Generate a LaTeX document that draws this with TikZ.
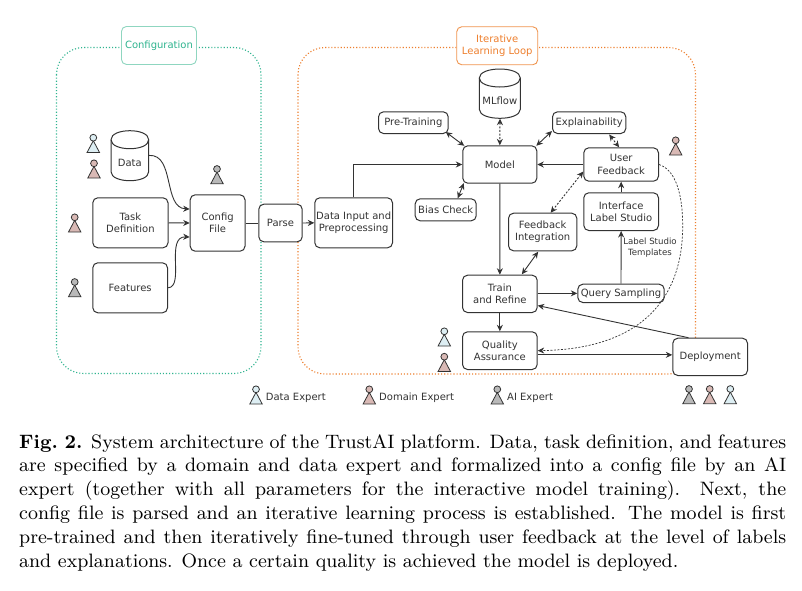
\documentclass[tikz,border=0pt]{standalone}
\usepackage{fontspec}
\setsansfont{DejaVu Sans}
\newfontfamily\capf[Extension=.otf,UprightFont=lmroman9-regular,BoldFont=lmroman9-bold]{lmroman9-regular}
\usetikzlibrary{arrows.meta,calc}
\definecolor{cfg}{HTML}{2FB48F}
\definecolor{cfgl}{HTML}{8FD6C0}
\definecolor{itl}{HTML}{EE7F2D}
\definecolor{itll}{HTML}{F0954F}
\definecolor{ln}{HTML}{333333}
\definecolor{dataC}{HTML}{DDEEF3}
\definecolor{domC}{HTML}{D9B9B5}
\definecolor{aiC}{HTML}{B9B9B9}
\tikzset{
  x=1pt,y=-1pt,
  lbl/.style={font=\sffamily\fontsize{10}{12.4}\selectfont,text=ln,align=center,inner sep=0pt},
  rbox/.style={draw=ln,line width=1pt,rounded corners=5pt,fill=white,lbl},
  frame/.style={line width=1.1pt,dotted,rounded corners=27pt},
  conn/.style={draw=ln,line width=.9pt,-{Stealth[length=6.5pt,width=6pt]}},
  both/.style={draw=ln,line width=.9pt,{Stealth[length=6.5pt,width=6pt]}-{Stealth[length=6.5pt,width=6pt]}},
  dash2/.style={dash pattern=on 2pt off 1.6pt},
}
\newcommand{\bx}[6]{\node[rbox,minimum width=#4-#2,minimum height=#5-#3,anchor=north west] (#1) at (#2,#3) {#6};}
\newcommand{\cyl}[6]{%
  \draw[draw=ln,line width=1pt,fill=white] (#2,#3+9) .. controls (#2,#3-3) and (#4,#3-3) .. (#4,#3+9)
    -- (#4,#5-9) .. controls (#4,#5+3) and (#2,#5+3) .. (#2,#5-9) -- cycle;
  \draw[draw=ln,line width=1pt] (#2,#3+9) .. controls (#2,#3+21) and (#4,#3+21) .. (#4,#3+9);
  \coordinate (#1-c) at ({(#2+#4)/2},{(#3+#5)/2+7});
  \node[lbl] at (#1-c) {#6};
  \node[inner sep=0pt,minimum width=#4-#2,minimum height=#5-#3,anchor=north west] (#1) at (#2,#3) {};}
\newcommand{\actor}[3]{%
  \draw[draw=ln,line width=.8pt,fill=#3] (#1,#2+3) -- (#1+6.2,#2+14.7) -- (#1-6.2,#2+14.7) -- cycle;
  \draw[draw=ln,line width=.8pt,fill=#3] (#1,#2) circle[radius=3.4];}
\begin{document}
\begin{tikzpicture}
\useasboundingbox[fill=white] (0,0) rectangle (802,590);
\draw[frame,cfg] (56.5,47.5) rectangle (261,373.5);
\draw[frame,itl] (298,47.5) rectangle (695.5,374);
\node[draw=cfgl,line width=.9pt,rounded corners=5pt,fill=white,lbl,text=cfg,minimum width=75pt,minimum height=38pt,anchor=north west] (conf) at (121,26) {Configuration};
\node[draw=itll,line width=.9pt,rounded corners=5pt,fill=white,lbl,text=itl,minimum width=81pt,minimum height=38pt,anchor=north west] (iter) at (456.3,26.3) {Iterative\\Learning Loop};
\cyl{data}{111}{130.7}{148.7}{180.7}{Data}
\bx{task}{92.3}{197.3}{167.5}{247.3}{Task\\Definition}
\bx{feat}{92.3}{262.3}{167}{312.3}{Features}
\bx{cfile}{189.7}{194.3}{244.5}{250.7}{Config\\File}
\bx{parse}{258.3}{203.7}{301.7}{241.3}{Parse}
\bx{dip}{314.3}{197.3}{392}{247.3}{Data Input and\\Preprocessing}
\cyl{mlf}{479.3}{69}{520.3}{118.3}{MLflow}
\bx{pre}{378}{111.3}{447.7}{133}{Pre-Training}
\bx{expl}{552}{111.3}{625.3}{133}{Explainability}
\bx{model}{462.3}{145.3}{536.3}{182.7}{Model}
\bx{user}{583.3}{147.3}{658}{180.7}{User\\Feedback}
\bx{ifc}{583.3}{192.3}{658}{230}{Interface\\Label Studio}
\bx{bias}{414.7}{198.3}{475.7}{220.3}{Bias Check}
\bx{fbi}{508}{212.7}{576.3}{250.3}{Feedback\\Integration}
\bx{train}{462}{274.7}{536.7}{312}{Train\\and Refine}
\bx{query}{577.3}{283.7}{663.7}{302}{Query Sampling}
\bx{qa}{462}{331.3}{536.7}{369}{Quality\\Assurance}
\bx{dep}{672.3}{337.7}{747}{375}{Deployment}
\node[lbl,font=\sffamily\fontsize{8.6}{11.6}\selectfont] (lst) at (650,247.5) {Label Studio\\Templates};
\draw[conn] (data.east) ++(0,-.5) .. controls (175,154) and (163,208) .. ($(cfile.west)+(0,-14)$);
\draw[conn] (task.east) -- (cfile.west);
\draw[conn] (feat.east) .. controls (185,287) and (165,236) .. ($(cfile.west)+(0,14)$);
\draw[draw=ln,line width=.9pt] (cfile.east) -- (parse.west);
\draw[conn] (parse.east) -- (dip.west);
\draw[conn] (dip.north) |- (model.west);
\draw[both] (pre.south east) ++(-3,-2) -- ($(model.north west)+(2,.5)$);
\draw[both] (expl.south west) ++(0,-3) -- ($(model.north east)+(-1,.5)$);
\draw[both,dash2] (mlf.south) -- (model.north);
\draw[both,dash2] ($(expl.south)+(20,.5)$) -- ($(user.north)+(-2,0)$);
\draw[conn] (user.west) -- (model.east);
\draw[conn] (ifc.north) -- (user.south);
\draw[both,dash2] ($(user.west)+(0,7)$) -- ($(fbi.north)+(8,0)$);
\draw[both] ($(bias.north)+(12,0)$) -- ($(model.south west)+(1.5,-.5)$);
\draw[conn] (model.south) -- (train.north);
\draw[both] ($(fbi.south)+(-4.5,.4)$) -- ($(train.north)+(22,-.4)$);
\draw[conn] (train.east |- query.west) -- (query.west);
\draw[conn] (query.north) -- (ifc.south);
\draw[conn] ($(dep.north)+(-21.7,0)$) -- ($(train.east)+(0,11.7)$);
\draw[conn] (train.south) -- (qa.north);
\draw[conn] ($(qa.east)+(0,4.2)$) -- ($(dep.west)+(0,-2)$);
\draw[draw=ln,line width=.7pt,dash pattern=on 2pt off 1.5pt,-{Stealth[length=6.5pt,width=6pt]}] (user.east) .. controls (676,170) and (682.7,195) .. (682.7,226) .. controls (682.7,300) and (640,349) .. (qa.east);
\actor{93.3}{137.7}{dataC}
\actor{94}{163.3}{domC}
\actor{217}{169}{aiC}
\actor{74.7}{217.3}{domC}
\actor{74.7}{282}{aiC}
\actor{675.7}{140.3}{domC}
\actor{444.3}{331.3}{dataC}
\actor{444.3}{356.7}{domC}
\actor{256}{389.3}{dataC}
\actor{369.3}{389.3}{domC}
\actor{497.3}{389.3}{aiC}
\actor{689}{389}{aiC}
\actor{709.7}{389}{domC}
\actor{730.3}{389}{dataC}
\node[lbl,anchor=base west] (l1) at (265.7,400) {Data Expert};
\node[lbl,anchor=base west] (l2) at (379,400) {Domain Expert};
\node[lbl,anchor=base west] (l3) at (507,400) {AI Expert};
\node[anchor=north west,inner sep=0pt,text width=767pt,align=justify,font=\capf\fontsize{19.4}{23.8}\selectfont] (cap) at (19,434) {\textbf{Fig.\ 2.} System architecture of the TrustAI platform. Data, task definition, and features\linebreak
are specified by a domain and data expert and formalized into a config file by an AI\linebreak
expert (together with all parameters for the interactive model training). Next, the\linebreak
config file is parsed and an iterative learning process is established. The model is first\linebreak
pre-trained and then iteratively fine-tuned through user feedback at the level of labels\linebreak
and explanations. Once a certain quality is achieved the model is deployed.};
\end{tikzpicture}
\end{document}
